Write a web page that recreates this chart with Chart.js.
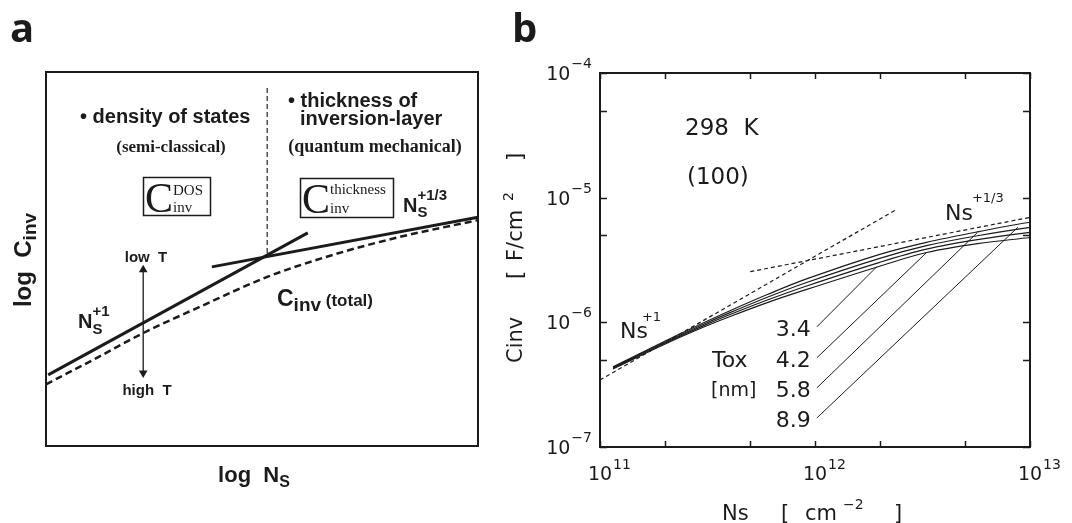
<!DOCTYPE html>
<html lang="en">
<head>
<meta charset="UTF-8">
<title>Cinv vs Ns</title>
<script src="https://cdn.jsdelivr.net/npm/chart.js"></script>
<style>
    body {
        margin: 0;
        background: #fff;
        width: 1072px;
        height: 523px;
        position: relative;
        overflow: hidden;
    }
    canvas { position: absolute; top: 0; }
    #chartA { left: 0; }
    #chartB { left: 500px; }
</style>
</head>
<body>
<canvas id="chartA" width="500" height="523"></canvas>
<canvas id="chartB" width="572" height="523"></canvas>

<script>
// ---------- panel a: schematic, arbitrary log units (0..10) ----------
const aDosX = [0.05, 6.06];          // N_S^+1 asymptote
const aDosY = [1.90, 5.70];
const aThickX = [3.84, 10];          // N_S^+1/3 asymptote
const aThickY = [4.79, 6.12];
const aTotalX = [0, 1.2, 2.25, 3.56, 5.12, 6.64, 8.19, 10];   // C_inv (total)
const aTotalY = [1.65, 2.37, 3.02, 3.72, 4.52, 5.11, 5.59, 6.04];
const aSplitX = [5.12, 5.12];        // dashed divider
const aSplitY = [9.57, 5.05];
const aArrowX = [2.25, 2.25];        // low T / high T arrow
const aArrowY = [4.71, 1.95];

// ---------- panel b: measured Cinv at 298 K ----------
const nsPoints = [1.15e11, 2e11, 3e11, 4e11, 6e11, 9e11, 2e12, 3.3e12, 5.7e12, 1e13, 1.35e13];
const toxNames = ['3.4', '4.2', '5.8', '8.9'];
const cinvTox = [
    [4.40e-7, 7.05e-7, 9.82e-7, 1.233e-6, 1.67e-6, 2.21e-6, 3.51e-6, 4.38e-6, 5.32e-6, 6.35e-6, 6.6e-6],
    [4.34e-7, 6.92e-7, 9.57e-7, 1.190e-6, 1.59e-6, 2.07e-6, 3.26e-6, 4.12e-6, 4.95e-6, 5.78e-6, 6.15e-6],
    [4.29e-7, 6.79e-7, 9.32e-7, 1.149e-6, 1.51e-6, 1.94e-6, 3.03e-6, 3.86e-6, 4.60e-6, 5.26e-6, 5.45e-6],
    [4.23e-7, 6.67e-7, 9.08e-7, 1.109e-6, 1.44e-6, 1.82e-6, 2.82e-6, 3.63e-6, 4.28e-6, 4.79e-6, null]
];
const slope1Ns = [1e11, 2.35e12];     // Ns^+1 guide
const slope1C = [3.45e-7, 7.9e-6];
const slope13Ns = [5e11, 1e13];       // Ns^+1/3 guide
const slope13C = [2.55e-6, 6.95e-6];
const leaderStartNs = 1.02e12;
const leaderStartC = [9.2e-7, 5.19e-7, 2.98e-7, 1.71e-7];
const leaderEndNs = [1.94e12, 3.32e12, 5.66e12, 8.79e12];
const leaderEndC = [2.8e-6, 3.66e-6, 5.2e-6, 5.8e-6];

const xTickValues = [1e11, 2e11, 5e11, 1e12, 2e12, 5e12, 1e13];
const yTickValues = [1e-7, 5e-7, 1e-6, 5e-6, 1e-5, 5e-5, 1e-4];
const xLabelValues = [1e11, 1e12, 1e13];
const xLabelExps = ['11', '12', '13'];
const yLabelValues = [1e-7, 1e-6, 1e-5, 1e-4];
const yLabelExps = ['\u22127', '\u22126', '\u22125', '\u22124'];

const ink = '#1b1b1b';
const OX = 500; // page x of the second canvas

function pts(xs, ys) {
    return xs.map((x, i) => ({ x: x, y: ys[i] }));
}

// draws a row of text pieces; piece = {t, f, dy, dx, stay}
function rich(ctx, parts, x, y, align) {
    let w = 0;
    parts.forEach(p => { ctx.font = p.f; if (!p.stay) w += ctx.measureText(p.t).width; });
    let cx = align === 'center' ? x - w / 2 : (align === 'right' ? x - w : x);
    parts.forEach(p => {
        ctx.font = p.f;
        ctx.fillText(p.t, cx + (p.dx || 0), y + (p.dy || 0));
        if (!p.stay) cx += ctx.measureText(p.t).width;
    });
}

const HB = n => 'bold ' + n + 'px "Liberation Sans", Arial, sans-serif';
const TB = n => 'bold ' + n + 'px "Liberation Serif", "Times New Roman", serif';
const TR = n => n + 'px "Liberation Serif", "Times New Roman", serif';
const DV = n => n + 'px "DejaVu Sans", sans-serif';

// ---------- panel a decorations ----------
const panelA = {
    id: 'panelA',
    afterDatasetsDraw(chart) {
        const ctx = chart.ctx;
        const a = chart.chartArea;
        ctx.save();
        ctx.strokeStyle = ink;
        ctx.fillStyle = ink;
        ctx.lineWidth = 2;
        ctx.strokeRect(a.left, a.top, a.right - a.left, a.bottom - a.top);
        ctx.textBaseline = 'alphabetic';

        ctx.font = 'bold 40px "Open Sans", sans-serif';
        ctx.fillText('a', 10, 42);

        ctx.font = HB(20);
        ctx.fillText('\u2022 density of states', 80, 123);
        ctx.fillText('\u2022 thickness of', 288, 107);
        ctx.fillText('inversion-layer', 300, 125);
        ctx.textAlign = 'center';
        ctx.font = TB(17);
        ctx.fillText('(semi-classical)', 171, 152);
        ctx.font = TB(18);
        ctx.fillText('(quantum mechanical)', 375, 152);
        ctx.textAlign = 'left';

        // boxed capacitance symbols
        ctx.lineWidth = 1.5;
        ctx.strokeRect(143.5, 177.5, 67, 38);
        rich(ctx, [{ t: 'C', f: TR(42) }, { t: 'DOS', f: TR(15), dy: -17, stay: true }, { t: 'inv', f: TR(15), dy: 0 }], 145, 212, 'left');
        ctx.strokeRect(300.5, 178.5, 93, 39);
        rich(ctx, [{ t: 'C', f: TR(42) }, { t: 'thickness', f: TR(15), dy: -19, stay: true }, { t: 'inv', f: TR(15), dy: 0 }], 302, 213, 'left');

        rich(ctx, [{ t: 'N', f: HB(20) }, { t: '+1/3', f: HB(15), dy: -12, stay: true }, { t: 'S', f: HB(15), dy: 5 }], 403, 212, 'left');
        rich(ctx, [{ t: 'N', f: HB(20) }, { t: '+1', f: HB(15), dy: -12, stay: true }, { t: 'S', f: HB(15), dy: 6 }], 78, 328, 'left');

        ctx.textAlign = 'center';
        ctx.font = HB(15);
        ctx.fillText('low  T', 146, 262);
        ctx.fillText('high  T', 147, 395);
        ctx.textAlign = 'left';

        rich(ctx, [{ t: 'C', f: HB(23) }, { t: 'inv', f: HB(19), dy: 5 }, { t: ' (total)', f: HB(17) }], 277, 306, 'left');
        rich(ctx, [{ t: 'log  N', f: HB(22) }, { t: 'S', f: HB(16), dy: 5 }], 254, 482, 'center');

        ctx.translate(31, 0);
        ctx.rotate(-Math.PI / 2);
        rich(ctx, [{ t: 'log  C', f: HB(24) }, { t: 'inv', f: HB(19), dy: 5 }], -260, 0, 'center');
        ctx.restore();
    }
};

// ---------- panel b frame, ticks and labels ----------
const panelB = {
    id: 'panelB',
    afterDatasetsDraw(chart) {
        const ctx = chart.ctx;
        const a = chart.chartArea;
        const xs = chart.scales.x;
        const ys = chart.scales.y;
        ctx.save();
        ctx.strokeStyle = ink;
        ctx.fillStyle = ink;
        ctx.lineWidth = 2;
        ctx.strokeRect(a.left, a.top, a.right - a.left, a.bottom - a.top);

        ctx.lineWidth = 1.5;
        ctx.beginPath();
        xTickValues.forEach(v => {
            const px = Math.round(xs.getPixelForValue(v)) + 0.5;
            ctx.moveTo(px, a.bottom); ctx.lineTo(px, a.bottom - 6);
            ctx.moveTo(px, a.top); ctx.lineTo(px, a.top + 6);
        });
        yTickValues.forEach(v => {
            const py = Math.round(ys.getPixelForValue(v)) + 0.5;
            ctx.moveTo(a.left, py); ctx.lineTo(a.left + 7, py);
            ctx.moveTo(a.right, py); ctx.lineTo(a.right - 7, py);
        });
        ctx.stroke();

        ctx.textBaseline = 'alphabetic';
        ctx.font = 'bold 40px "Open Sans", sans-serif';
        ctx.fillText('b', 12, 42);

        // tick labels
        xLabelValues.forEach((v, i) => {
            const px = xs.getPixelForValue(v);
            ctx.font = DV(19);
            ctx.textAlign = 'center';
            ctx.fillText('10', px, a.bottom + 33);
            const w = ctx.measureText('10').width;
            ctx.textAlign = 'left';
            ctx.font = DV(14);
            ctx.fillText(xLabelExps[i], px + w / 2 + 1, a.bottom + 22);
        });
        yLabelValues.forEach((v, i) => {
            const py = ys.getPixelForValue(v);
            ctx.textAlign = 'right';
            ctx.font = DV(14);
            ctx.fillText(yLabelExps[i], 92, py - 5);
            const w = ctx.measureText(yLabelExps[i]).width;
            ctx.font = DV(19);
            ctx.fillText('10', 92 - w - 1, py + 7);
        });
        ctx.textAlign = 'left';

        // axis titles
        ctx.font = DV(21);
        ctx.fillText('Ns', 722 - OX, 520);
        ctx.fillText('[', 781 - OX, 520);
        ctx.fillText('cm', 805 - OX, 520);
        ctx.fillText(']', 894 - OX, 520);
        ctx.font = DV(14);
        ctx.fillText('\u22122', 843 - OX, 509);

        ctx.save();
        ctx.translate(522 - OX, 0);
        ctx.rotate(-Math.PI / 2);
        ctx.font = DV(21);
        ctx.fillText('Cinv', -363, 0);
        ctx.fillText('[', -279, 0);
        ctx.fillText('F/cm', -261, 0);
        ctx.fillText(']', -161, 0);
        ctx.font = DV(14);
        ctx.fillText('2', -201, -9);
        ctx.restore();

        // annotations
        ctx.font = DV(23);
        ctx.fillText('298  K', 685 - OX, 135);
        ctx.fillText('(100)', 687 - OX, 184);

        rich(ctx, [{ t: 'Ns', f: DV(22) }, { t: '+1', f: DV(13), dy: -17, dx: -6 }], 620 - OX, 338, 'left');
        rich(ctx, [{ t: 'Ns', f: DV(22) }, { t: '+1/3', f: DV(13), dy: -18, dx: -1 }], 945 - OX, 220, 'left');

        ctx.font = DV(22);
        ctx.textAlign = 'right';
        toxNames.forEach((name, i) => {
            const px = xs.getPixelForValue(leaderStartNs) - 6;
            const py = ys.getPixelForValue(leaderStartC[i]);
            ctx.fillText(name, px, py + 9);
        });
        ctx.textAlign = 'left';
        ctx.fillText('Tox', 712 - OX, 367);
        ctx.font = DV(19);
        ctx.fillText('[nm]', 711 - OX, 396);
        ctx.restore();
    }
};

// ---------- chart a ----------
new Chart(document.getElementById('chartA'), {
    type: 'line',
    data: {
        datasets: [
            { data: pts(aDosX, aDosY), borderColor: ink, borderWidth: 3, pointRadius: 0 },
            { data: pts(aThickX, aThickY), borderColor: ink, borderWidth: 3, pointRadius: 0 },
            { data: pts(aTotalX, aTotalY), borderColor: ink, borderWidth: 2.5, borderDash: [7, 4], pointRadius: 0, cubicInterpolationMode: 'monotone' },
            { data: pts(aSplitX, aSplitY), borderColor: ink, borderWidth: 1.2, borderDash: [5, 3], pointRadius: 0 },
            {
                data: pts(aArrowX, aArrowY), borderColor: ink, borderWidth: 1.3,
                pointStyle: 'triangle', pointRadius: 5, pointRotation: [0, 180],
                pointBackgroundColor: ink, pointBorderColor: ink, pointBorderWidth: 0
            }
        ]
    },
    options: {
        responsive: false,
        animation: false,
        layout: { padding: { left: 46, top: 72, right: 22, bottom: 77 } },
        plugins: { legend: { display: false }, tooltip: { enabled: false } },
        scales: {
            x: { type: 'linear', min: 0, max: 10, display: false },
            y: { type: 'linear', min: 0, max: 10, display: false }
        }
    },
    plugins: [panelA]
});

// ---------- chart b ----------
const bDatasets = cinvTox.map(vals => ({
    data: pts(nsPoints, vals), borderColor: ink, borderWidth: 1.2, pointRadius: 0,
    tension: 0.35, clip: false, spanGaps: false
}));
bDatasets.push({ data: pts(slope1Ns, slope1C), borderColor: ink, borderWidth: 1.2, borderDash: [4, 3], pointRadius: 0 });
bDatasets.push({ data: pts(slope13Ns, slope13C), borderColor: ink, borderWidth: 1.2, borderDash: [4, 3], pointRadius: 0 });
leaderStartC.forEach((c, i) => {
    bDatasets.push({
        data: pts([leaderStartNs, leaderEndNs[i]], [c, leaderEndC[i]]),
        borderColor: ink, borderWidth: 1, pointRadius: 0
    });
});

new Chart(document.getElementById('chartB'), {
    type: 'line',
    data: { datasets: bDatasets },
    options: {
        responsive: false,
        animation: false,
        layout: { padding: { left: 100, top: 73, right: 42, bottom: 76 } },
        plugins: { legend: { display: false }, tooltip: { enabled: false } },
        scales: {
            x: { type: 'logarithmic', min: 1e11, max: 1e13, display: false },
            y: { type: 'logarithmic', min: 1e-7, max: 1e-4, display: false }
        }
    },
    plugins: [panelB]
});
</script>
</body>
</html>
